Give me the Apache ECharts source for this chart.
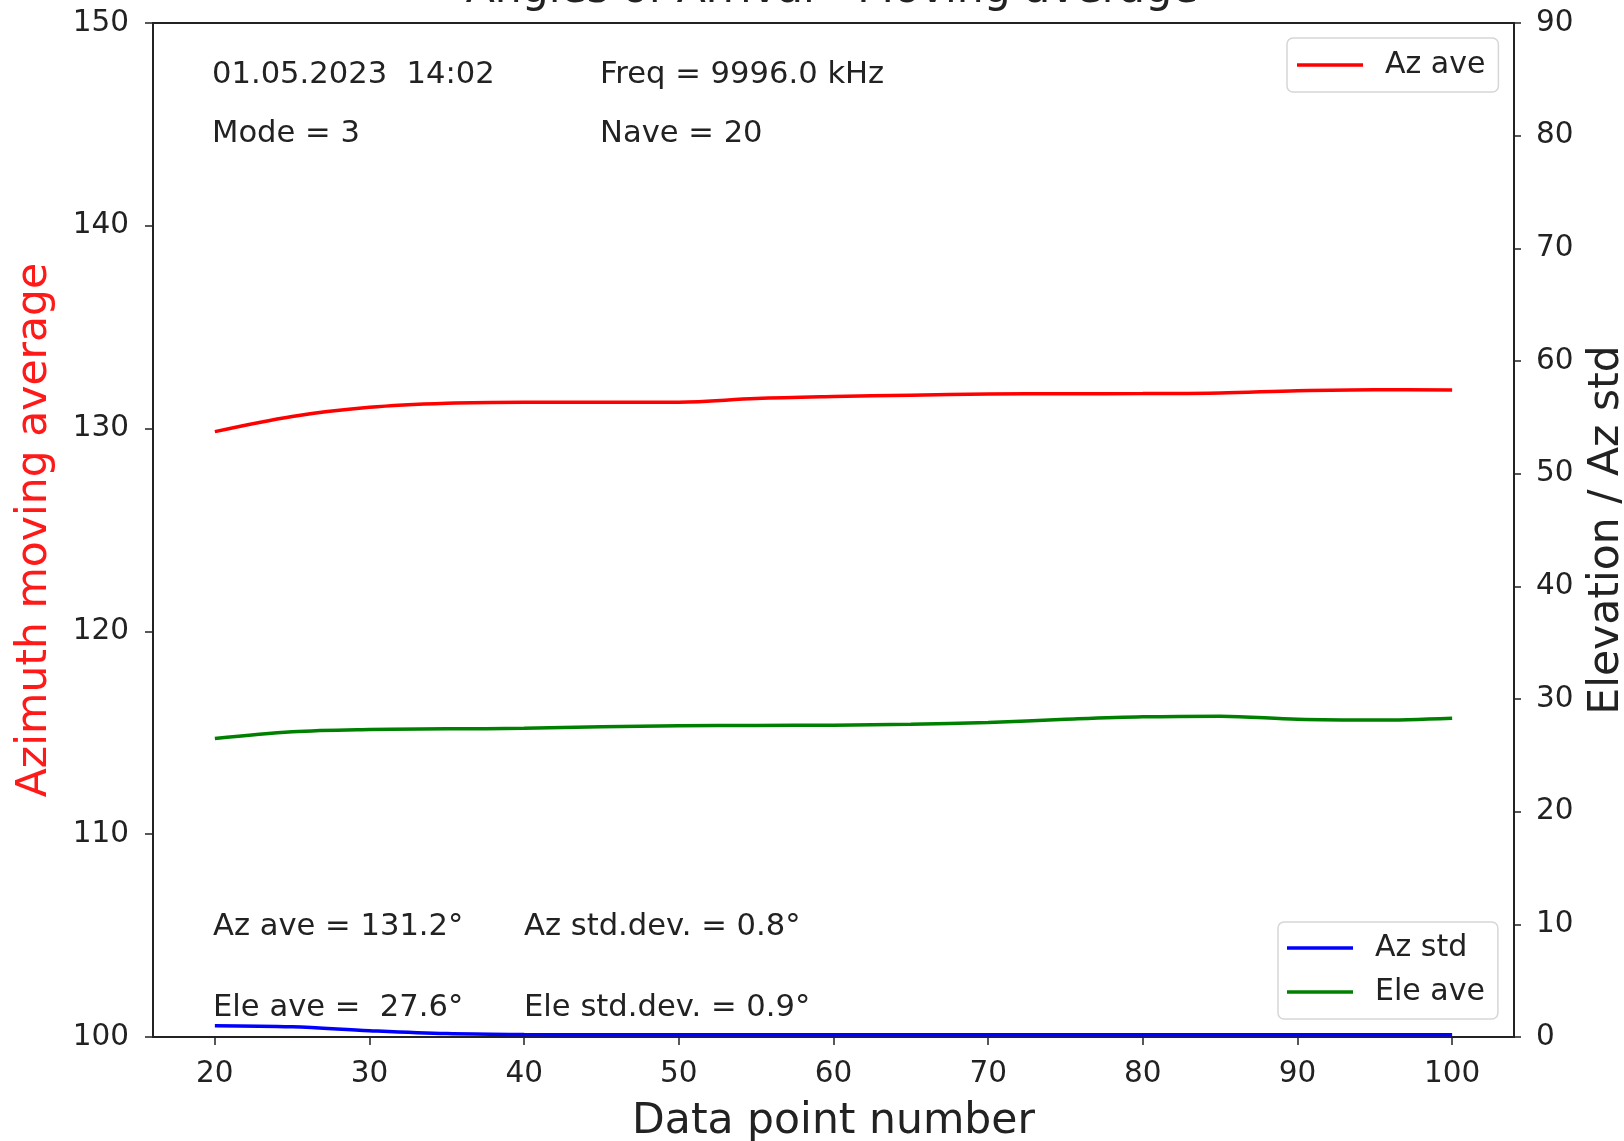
<!DOCTYPE html>
<html>
<head>
<meta charset="utf-8">
<title>Angles of Arrival - Moving average</title>
<script src="https://cdn.jsdelivr.net/npm/echarts@6/dist/echarts.min.js"></script>
<style>
  html, body { margin: 0; padding: 0; background: #fff; }
  #chart { width: 1624px; height: 1141px; }
</style>
</head>
<body>
<div id="chart"></div>
<script>
// Moving-average readings, sampled every 5 data points
const pointNumbers = [20, 25, 30, 35, 40, 45, 50, 55, 60, 65, 70, 75, 80, 85, 90, 95, 100];
const azAve  = [129.85, 130.6, 131.05, 131.25, 131.3, 131.3, 131.3, 131.48, 131.58, 131.65, 131.7, 131.72, 131.73, 131.76, 131.87, 131.92, 131.9];
const eleAve = [26.5, 27.1, 27.3, 27.35, 27.4, 27.53, 27.62, 27.65, 27.68, 27.75, 27.92, 28.2, 28.42, 28.48, 28.2, 28.13, 28.3];
const azStd  = [1.0, 0.9, 0.56, 0.3, 0.22, 0.2, 0.2, 0.2, 0.2, 0.2, 0.2, 0.2, 0.2, 0.2, 0.2, 0.2, 0.2];

const xTicks = [20, 30, 40, 50, 60, 70, 80, 90, 100];

const titleText = 'Angles of Arrival - Moving average';
const infoTop = [
  { text: '01.05.2023  14:02', x: 212, y: 75 },
  { text: 'Freq = 9996.0 kHz', x: 600, y: 75 },
  { text: 'Mode = 3', x: 212, y: 134 },
  { text: 'Nave = 20', x: 600, y: 134 }
];
const infoBottom = [
  { text: 'Az ave = 131.2°', x: 213, y: 927 },
  { text: 'Az std.dev. = 0.8°', x: 524, y: 927 },
  { text: 'Ele ave =  27.6°', x: 213, y: 1008 },
  { text: 'Ele std.dev. = 0.9°', x: 524, y: 1008 }
];

const FONT = 'DejaVu Sans';
const INK = '#222';

function pairs(xs, ys) { return xs.map((x, i) => [x, ys[i]]); }

const chart = echarts.init(document.getElementById('chart'), null, { renderer: 'canvas' });

// Legend keys are drawn as short thick bars, like plain line samples
const legendBase = {
  orient: 'vertical',
  icon: 'rect',
  itemWidth: 66,
  itemHeight: 3.5,
  backgroundColor: 'rgba(255,255,255,0.8)',
  borderColor: '#d6d6d6',
  borderWidth: 1.5,
  borderRadius: 6,
  textStyle: { fontFamily: FONT, fontSize: 30, color: INK, padding: [0, 0, 0, 17] }
};

const textGraphics = infoTop.concat(infoBottom).map(t => ({
  type: 'text',
  x: t.x,
  y: t.y,
  style: {
    text: t.text,
    font: '30.6px "' + FONT + '"',
    fill: INK,
    align: 'left',
    verticalAlign: 'middle'
  },
  z: 10
}));

textGraphics.push({
  type: 'text',
  x: 832,
  y: -9,
  style: {
    text: titleText,
    font: '42.5px "' + FONT + '"',
    fill: INK,
    align: 'center',
    verticalAlign: 'middle'
  },
  z: 10
});

const option = {
  animation: false,
  backgroundColor: '#fff',
  grid: {
    left: 153, right: 110, top: 23, bottom: 104,
    show: true,
    borderColor: INK,
    borderWidth: 2,
    containLabel: false,
    outerBoundsMode: 'none'
  },
  legend: [
    Object.assign({}, legendBase, {
      data: ['Az ave'],
      left: 1287, top: 38,
      padding: [12, 13, 12, 10]
    }),
    Object.assign({}, legendBase, {
      data: ['Az std', 'Ele ave'],
      left: 1278, top: 922,
      itemGap: 14,
      padding: [11, 13, 12, 9]
    })
  ],
  xAxis: {
    type: 'value',
    min: 16, max: 104,
    name: 'Data point number',
    nameLocation: 'middle',
    nameGap: 63,
    nameTextStyle: { fontFamily: FONT, fontSize: 42.5, color: INK },
    axisLine: { show: true, onZero: false, lineStyle: { color: INK, width: 2 } },
    axisTick: { show: true, inside: false, length: 8, customValues: xTicks, lineStyle: { color: INK, width: 1.5 } },
    axisLabel: { show: true, margin: 22, customValues: xTicks, fontFamily: FONT, fontSize: 29.5, color: INK },
    splitLine: { show: false }
  },
  yAxis: [
    {
      type: 'value',
      position: 'left',
      min: 100, max: 150, interval: 10,
      name: 'Azimuth moving average',
      nameLocation: 'middle',
      nameGap: 97,
      nameTextStyle: { fontFamily: FONT, fontSize: 42.5, color: '#ff1a1a' },
      axisLine: { show: true, onZero: false, lineStyle: { color: INK, width: 2 } },
      axisTick: { show: true, inside: false, length: 8, lineStyle: { color: INK, width: 1.5 } },
      axisLabel: { margin: 24, fontFamily: FONT, fontSize: 29.5, color: INK },
      splitLine: { show: false }
    },
    {
      type: 'value',
      position: 'right',
      min: 0, max: 90, interval: 10,
      name: 'Elevation / Az std',
      nameLocation: 'middle',
      nameGap: 71,
      nameTextStyle: { fontFamily: FONT, fontSize: 42.5, color: INK },
      axisLine: { show: true, onZero: false, lineStyle: { color: INK, width: 2 } },
      axisTick: { show: true, inside: false, length: 7, lineStyle: { color: INK, width: 1.5 } },
      axisLabel: { margin: 22, fontFamily: FONT, fontSize: 29.5, color: INK },
      splitLine: { show: false }
    }
  ],
  series: [
    {
      name: 'Az ave',
      type: 'line',
      yAxisIndex: 0,
      data: pairs(pointNumbers, azAve),
      smooth: 0.35,
      symbol: 'none',
      lineStyle: { color: '#ff0000', width: 3.5 },
      itemStyle: { color: '#ff0000' },
      z: 3
    },
    {
      name: 'Az std',
      type: 'line',
      yAxisIndex: 1,
      data: pairs(pointNumbers, azStd),
      smooth: 0.35,
      symbol: 'none',
      lineStyle: { color: '#0000ff', width: 3.5 },
      itemStyle: { color: '#0000ff' },
      z: 3
    },
    {
      name: 'Ele ave',
      type: 'line',
      yAxisIndex: 1,
      data: pairs(pointNumbers, eleAve),
      smooth: 0.35,
      symbol: 'none',
      lineStyle: { color: '#008000', width: 3.5 },
      itemStyle: { color: '#008000' },
      z: 3
    }
  ],
  graphic: textGraphics
};

chart.setOption(option);
</script>
</body>
</html>
